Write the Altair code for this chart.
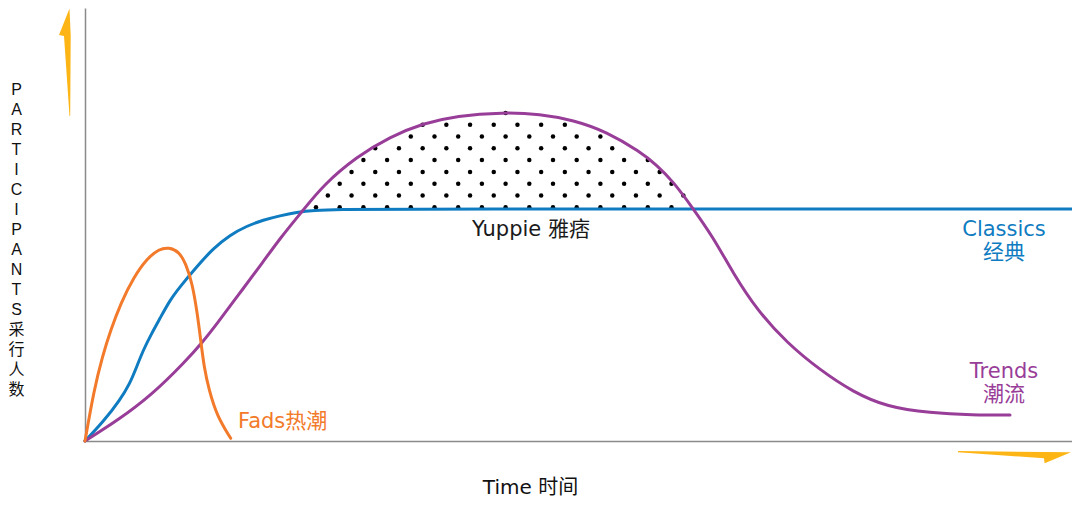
import altair as alt
import pandas as pd
import numpy as np

# ---------------- data (time units, participant units) ----------------
fads_t = [0, 0.9, 1.73, 2.57, 3.57, 4.9, 6.23, 7.4, 8.4, 9.4, 10.07, 10.73, 11.23, 11.57, 11.9, 12.4, 13.23, 14.57]
fads_p = [0, 5.1, 8.43, 11.1, 13.77, 16.43, 18.27, 19.2, 19.37, 18.93, 17.77, 15.77, 12.77, 10.1, 7.43, 5.1, 2.43, 0.27]

classics_t = [0, 1.83, 3.5, 4.5, 5.17, 5.83, 6.67, 7.5, 8.5, 9.5, 11.17, 12.83, 14.5, 16.17, 17.83, 19.5,
              21.17, 22.83, 25.5, 30, 98.7]
classics_p = [0, 1.93, 4.1, 5.77, 7.43, 9.1, 10.77, 12.27, 14.1, 15.43, 17.43, 19.27, 20.6, 21.5, 22.1, 22.53,
              22.87, 23.07, 23.17, 23.2, 23.2]

trends_t = [0, 3.33, 6.67, 10, 11.83, 13, 15.33, 17.83, 19.5, 21.83, 23.83, 27.17, 30.5, 33.83, 37.17, 41.83, 45.5,
            48.83, 52.17, 55.5, 57.17, 58.83, 60.7, 62.8, 64.8, 67.2, 70.2, 73.5, 76.8, 80.2, 84.5, 88.8, 92.5]
trends_p = [0, 2.1, 4.6, 7.9, 9.98, 11.45, 14.6, 17.93, 20.27, 23.1, 25.6, 28.43, 30.43, 31.77, 32.53, 32.87, 32.7,
            32.1, 30.93, 28.93, 27.6, 25.93, 23.4, 20.4, 16.8, 13.1, 9.8, 7.1, 4.9, 3.4, 2.8, 2.6, 2.6]

labels_text = ["Classics", "经典", "Trends", "潮流", "Yuppie 雅痞", "Fads热潮"]
labels_t = [91.9, 91.9, 91.9, 91.9, 44.6, 15.3]
labels_p = [21.1, 18.8, 6.9, 4.6, 21.1, 1.9]
labels_series = ["Classics", "Classics", "Trends", "Trends", "Yuppie", "Fads"]

y_title = list("PARTICIPANTS") + list("采行人数")
x_title = "Time 时间"

# decorative arrows (outline in chart units)
uparrow_p = [43.2, 40.6, 40.5, 32.5]
uparrow_left = [-1.57, -2.6, -2.1, -1.55]
uparrow_right = [-1.55, -1.43, -1.43, -1.48]

rarrow_t = [87.3, 95.9, 95.96, 98.6]
rarrow_top = [-1.0, -1.1, -1.1, -1.13]
rarrow_bottom = [-1.12, -1.73, -2.23, -1.13]

# ---------------- tables ----------------
curves = pd.concat([
    pd.DataFrame({"t": classics_t, "p": classics_p, "series": "Classics"}),
    pd.DataFrame({"t": trends_t, "p": trends_p, "series": "Trends"}),
    pd.DataFrame({"t": fads_t, "p": fads_p, "series": "Fads"}),
], ignore_index=True)

# stipple texture for the area where Trends rises above Classics
dot_rows = []
row_gap, col_gap, p0, t0 = 1.18, 2.37, 23.37, 23.1
for i in range(12):
    pp = p0 + i * row_gap
    off = (i % 2) * col_gap / 2
    for tt in np.arange(t0 + off - 4 * col_gap, 75, col_gap):
        top = np.interp(tt, trends_t, trends_p)
        bot = np.interp(tt, classics_t, classics_p)
        if bot - 0.2 <= pp <= top + 0.05:
            dot_rows.append({"t": tt, "p": pp})
dots = pd.DataFrame(dot_rows)

labels = pd.DataFrame({"text": labels_text, "t": labels_t, "p": labels_p, "series": labels_series})
uparrow = pd.DataFrame({"p": uparrow_p, "a": uparrow_left, "b": uparrow_right})
rarrow = pd.DataFrame({"t": rarrow_t, "a": rarrow_top, "b": rarrow_bottom})

# ---------------- styles ----------------
color_dom = ["Classics", "Trends", "Fads", "Yuppie"]
color_rng = ["#0F7CC1", "#983D98", "#F27A2A", "#1a1a1a"]
cscale = alt.Scale(domain=color_dom, range=color_rng)
xscale = alt.Scale(domain=[0, 98.7], nice=False, zero=False)
yscale = alt.Scale(domain=[0, 43.3], nice=False, zero=False)
FONT = "DejaVu Sans, Noto Sans CJK SC"

xaxis = alt.Axis(title=x_title, domain=True, ticks=False, labels=False, grid=False,
                 titleX=445, titleY=46, titleAlign="center", titleBaseline="middle",
                 titleFont=FONT, titleFontSize=20, titleFontWeight="normal", titleColor="#111")
yaxis = alt.Axis(title=y_title, domain=True, ticks=False, labels=False, grid=False,
                 titleAngle=0, titleX=-69, titleY=73, titleAlign="center", titleBaseline="top",
                 titleLineHeight=20, titleFont="Liberation Sans, Noto Sans CJK SC", titleFontSize=16,
                 titleFontWeight="normal", titleColor="#111")

base_dots = alt.Chart(dots).mark_circle(size=20, color="#000", opacity=1).encode(
    x=alt.X("t:Q", scale=xscale, axis=xaxis),
    y=alt.Y("p:Q", scale=yscale, axis=yaxis),
)

def curve(name):
    return alt.Chart(curves).transform_filter(alt.datum.series == name).mark_line(
        interpolate="basis", strokeWidth=3, strokeCap="round"
    ).encode(
        x=alt.X("t:Q", scale=xscale),
        y=alt.Y("p:Q", scale=yscale),
        color=alt.Color("series:N", scale=cscale, legend=None),
        order=alt.Order("t:Q"),
    )

up = alt.Chart(uparrow).mark_area(orient="horizontal", color="#FDB515").encode(
    y=alt.Y("p:Q", scale=yscale),
    x=alt.X("a:Q", scale=xscale),
    x2="b:Q",
)
right = alt.Chart(rarrow).mark_area(orient="vertical", color="#FDB515").encode(
    x=alt.X("t:Q", scale=xscale),
    y=alt.Y("a:Q", scale=yscale),
    y2="b:Q",
)

text_center = alt.Chart(labels).transform_filter(alt.datum.series != "Fads").mark_text(
    font=FONT, fontSize=21, align="center", baseline="middle"
).encode(
    x=alt.X("t:Q", scale=xscale), y=alt.Y("p:Q", scale=yscale), text="text:N",
    color=alt.Color("series:N", scale=cscale, legend=None),
)
text_left = alt.Chart(labels).transform_filter(alt.datum.series == "Fads").mark_text(
    font=FONT, fontSize=21, align="left", baseline="middle"
).encode(
    x=alt.X("t:Q", scale=xscale), y=alt.Y("p:Q", scale=yscale), text="text:N",
    color=alt.Color("series:N", scale=cscale, legend=None),
)

chart = alt.layer(
    base_dots, curve("Classics"), curve("Trends"), curve("Fads"), up, right, text_center, text_left
).properties(
    width=987, height=433,
    autosize=alt.AutoSizeParams(type="none"),
    padding={"left": 77, "top": 0, "right": 0, "bottom": 59},
    background="white",
).configure_view(stroke=None).configure_axis(
    domainColor="#8a8a8a", domainWidth=1.5
)

chart.save("out.html", embed_options={"renderer": "svg", "actions": False})
